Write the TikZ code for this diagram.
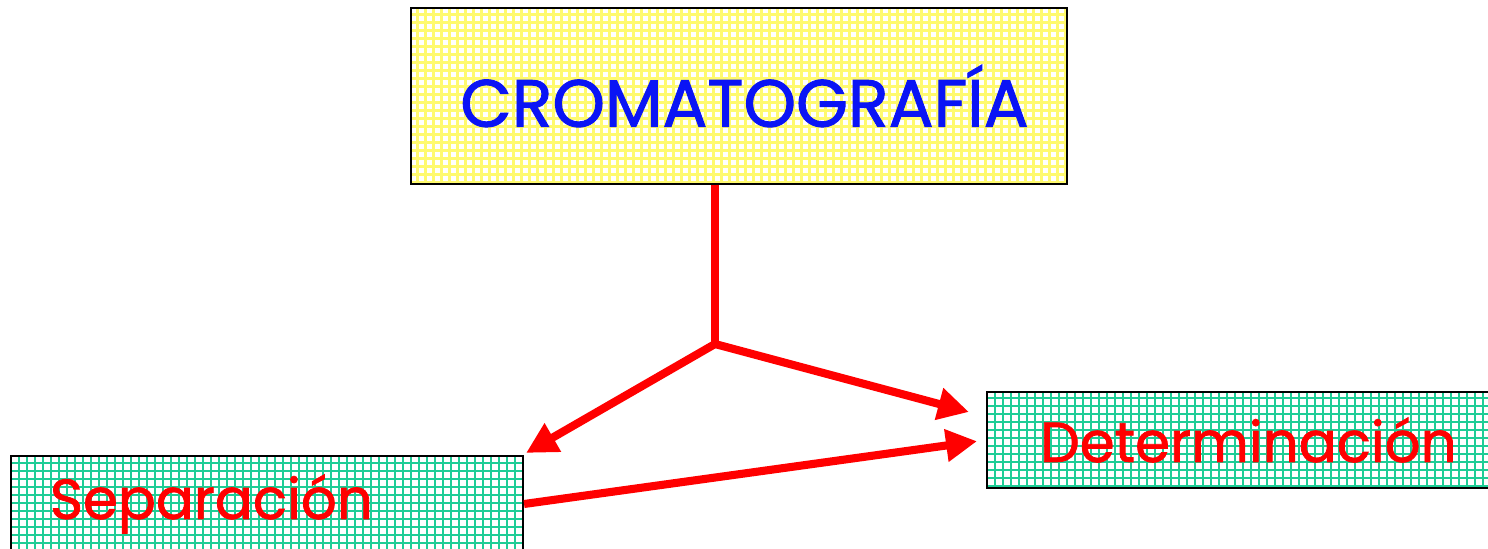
\documentclass[tikz,border=0pt]{standalone}
\usepackage{fontspec}
\setmainfont{Poppins}[FakeBold=1.4]
\usetikzlibrary{arrows.meta,calc}

\definecolor{gridyellow}{RGB}{255,250,110}
\definecolor{gridgreen}{RGB}{30,205,150}
\definecolor{textblue}{RGB}{10,20,245}
\definecolor{linered}{RGB}{255,0,0}

\tikzset{
  gridbox/.style={draw=black, line width=1.2pt, fill=white, inner sep=0pt,
    path picture={
      \draw[#1, line width=1.5pt]
        (path picture bounding box.south west) grid[step=0.16]
        (path picture bounding box.north east);
    }},
  link/.style={draw=linered, line width=4.6pt},
  tip/.style={link, -{Triangle[length=0.62cm, width=0.62cm]}}
}

\begin{document}
\begin{tikzpicture}
  \useasboundingbox (0,0) rectangle (29.76,-10.98);

  \node[gridbox=gridyellow, minimum width=13.12cm, minimum height=3.52cm,
        font=\fontsize{38}{40}\selectfont, text=textblue]
    (cromatografia) at (14.78,-1.92) {\hspace{0.22cm}CROMATOGRAFÍA};
  \node[gridbox=gridgreen, minimum width=10.24cm, minimum height=1.92cm,
        text width=10.24cm, align=left,
        font=\fontsize{32}{34}\selectfont, text=linered]
    (separacion) at (5.34,-10.08) {\hspace{0.78cm}\mbox{Separación}};
  \node[gridbox=gridgreen, minimum width=10.16cm, minimum height=1.92cm,
        text width=10.16cm, align=left,
        font=\fontsize{32}{34}\selectfont, text=linered]
    (determinacion) at (24.82,-8.80) {\hspace{1.06cm}\mbox{Determinación}};

  \coordinate (split) at (14.30,-6.88);

  \begin{scope}[line join=miter]
    \draw[link] (split |- cromatografia.south) -- (split);
    \draw[tip] (split) -- ($(separacion.north east)+(0.04,0.04)$);
    \draw[tip] (split) -- ($(determinacion.west)+(-0.34,0.56)$);
    \draw[tip, shorten >=0.18cm] (separacion.east) -- (determinacion.west);
  \end{scope}
\end{tikzpicture}
\end{document}
